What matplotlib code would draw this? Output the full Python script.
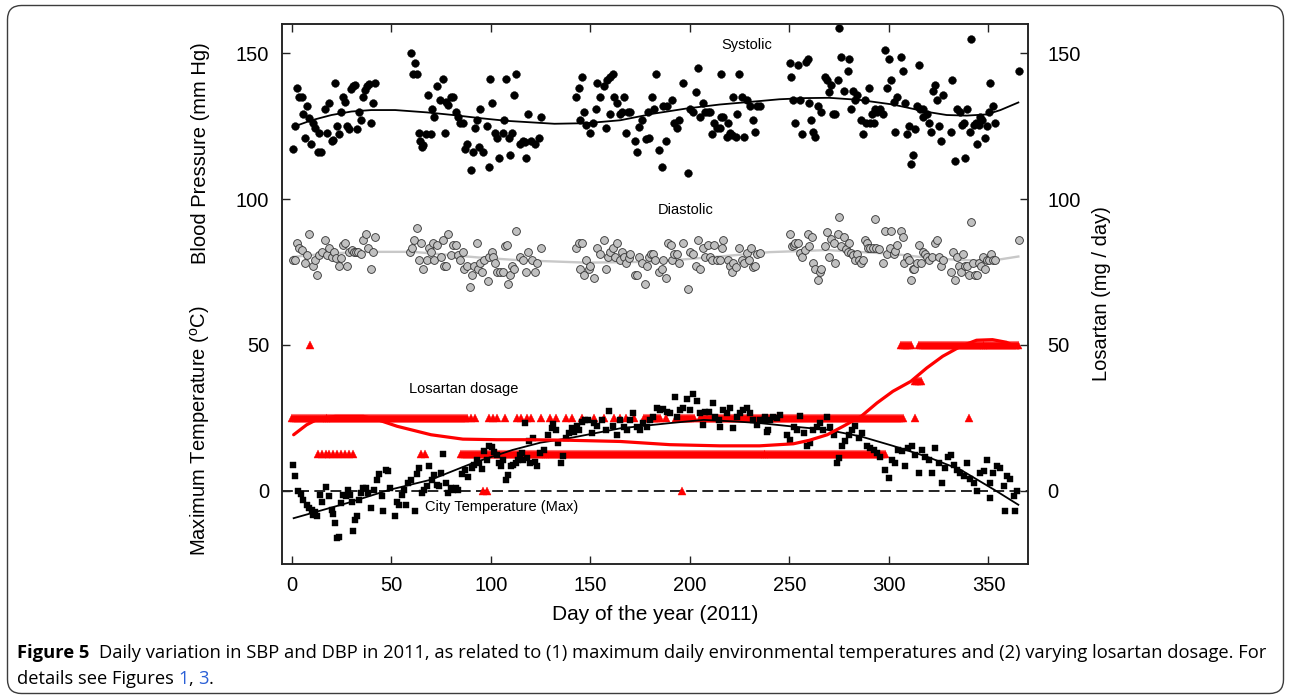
import numpy as np
import matplotlib
matplotlib.use("Agg")
import matplotlib.pyplot as plt
from matplotlib.patches import FancyBboxPatch
from matplotlib.transforms import IdentityTransform
from matplotlib.font_manager import FontProperties

# ---------------- data ----------------
SBP_DAY = [0.8, 1.6, 2.8, 3.7, 5.0, 5.8, 6.7, 7.9, 8.9, 9.7, 10.9, 11.7, 13.0, 13.9, 14.9, 16.7, 17.9, 18.7,
           20.1, 21.0, 21.8, 22.9, 23.9, 24.8, 26.0, 26.8, 27.6, 28.8, 29.6, 30.6, 31.8, 33.0, 33.8, 34.8,
           35.7, 36.8, 38.0, 39.0, 39.7, 40.7, 41.8, 59.8, 60.8, 61.8, 62.8, 63.8, 64.5, 65.3, 65.8, 67.3,
           68.6, 69.8, 70.7, 71.7, 72.9, 74.5, 75.9, 76.9, 77.5, 78.7, 79.9, 80.9, 82.6, 83.7, 84.6, 85.9,
           87.1, 88.0, 89.9, 90.9, 92.1, 92.9, 94.1, 94.8, 95.9, 98.0, 99.0, 99.8, 100.8, 102.0, 103.0,
           104.2, 106.0, 106.9, 107.9, 109.0, 109.7, 110.9, 111.9, 112.9, 114.7, 116.1, 117.4, 117.7, 118.9,
           120.3, 122.3, 124.0, 125.1, 142.9, 144.1, 144.9, 145.9, 146.9, 147.9, 149.9, 151.2, 152.9, 153.6,
           154.9, 156.9, 158.0, 158.6, 160.0, 160.0, 161.3, 161.9, 163.6, 164.9, 165.8, 167.0, 168.0, 168.7,
           170.0, 172.5, 173.7, 174.7, 175.9, 178.1, 178.9, 179.7, 180.9, 182.1, 182.9, 184.7, 185.9, 186.4,
           187.9, 188.4, 190.9, 192.1, 193.4, 194.8, 196.8, 199.0, 200.1, 201.8, 203.0, 204.0, 205.2, 206.5,
           207.7, 208.9, 209.9, 211.1, 211.9, 213.6, 215.0, 215.5, 215.9, 216.9, 218.6, 219.4, 220.3, 221.1,
           221.9, 223.3, 223.9, 224.8, 226.1, 227.3, 228.6, 230.3, 231.9, 232.9, 233.9, 235.3, 250.1, 251.0,
           251.8, 252.9, 254.1, 255.1, 256.2, 258.3, 259.3, 260.1, 260.9, 261.7, 262.9, 264.2, 265.8, 268.1,
           268.8, 269.9, 270.9, 271.8, 272.9, 274.2, 275.0, 276.0, 277.2, 279.2, 280.0, 280.9, 282.2, 283.0,
           284.2, 285.9, 287.2, 288.1, 288.6, 290.0, 290.6, 291.4, 292.3, 293.0, 294.2, 295.6, 296.9, 298.1,
           298.9, 300.1, 300.9, 302.3, 303.0, 303.9, 305.9, 306.9, 307.9, 308.9, 309.9, 310.9, 311.9, 312.9,
           313.9, 315.1, 315.4, 317.0, 317.3, 319.0, 320.1, 321.1, 322.1, 323.2, 324.1, 325.3, 326.1, 327.0,
           331.1, 331.9, 333.2, 334.1, 335.5, 336.5, 337.5, 338.2, 339.2, 340.5, 341.2, 342.6, 343.9, 344.2,
           345.1, 345.8, 346.9, 348.2, 349.2, 350.2, 350.9, 352.2, 353.2, 365.1]
SBP_MMHG = [117.0, 125.0, 137.9, 135.0, 135.0, 129.0, 120.8, 132.0, 127.8, 118.9, 125.9, 124.2, 116.0, 122.8, 116.0,
            130.8, 122.8, 132.8, 120.0, 120.3, 139.8, 125.0, 122.2, 129.9, 135.0, 133.1, 125.0, 124.0, 137.7,
            138.6, 139.1, 124.0, 129.9, 127.0, 135.0, 137.5, 138.6, 139.4, 125.9, 132.9, 139.8, 149.9, 143.0,
            146.8, 143.0, 122.8, 119.8, 117.8, 118.5, 122.2, 135.8, 122.2, 131.0, 128.2, 138.8, 133.8, 141.0,
            122.8, 133.1, 132.2, 135.0, 135.0, 129.9, 128.2, 125.9, 125.9, 117.3, 119.0, 110.0, 116.0, 124.2,
            127.0, 117.8, 130.8, 116.0, 125.0, 111.0, 141.0, 132.8, 122.8, 120.8, 114.0, 122.8, 127.0, 141.0,
            120.8, 115.1, 122.8, 135.8, 143.0, 119.0, 120.0, 119.6, 114.0, 129.0, 120.0, 119.0, 121.0, 128.0,
            135.0, 137.9, 127.0, 141.8, 130.0, 125.4, 122.8, 125.9, 130.8, 139.8, 135.0, 138.8, 124.2, 140.7,
            141.8, 129.0, 143.0, 135.0, 132.8, 129.0, 129.9, 135.0, 122.8, 129.9, 129.9, 120.0, 116.0, 124.7,
            127.0, 120.5, 129.9, 121.0, 135.0, 130.8, 143.0, 116.8, 111.0, 132.0, 120.0, 132.0, 134.0, 125.9,
            124.2, 127.0, 139.8, 109.0, 130.8, 129.9, 136.8, 144.9, 128.2, 132.8, 129.9, 130.0, 129.9, 122.2,
            125.9, 124.2, 124.2, 128.0, 143.0, 128.0, 121.4, 126.0, 122.5, 122.0, 135.0, 121.4, 129.0, 143.0,
            135.0, 121.4, 134.0, 132.0, 127.0, 123.0, 132.0, 132.0, 146.8, 141.9, 133.9, 125.9, 145.9, 133.9,
            122.2, 147.0, 147.9, 132.8, 127.0, 123.1, 121.2, 132.0, 129.9, 141.9, 140.7, 136.8, 139.0, 129.0,
            129.0, 140.9, 158.7, 148.7, 137.0, 143.8, 147.9, 130.8, 137.0, 134.0, 135.8, 127.0, 122.2, 134.0,
            125.9, 138.0, 125.9, 129.0, 125.9, 130.8, 129.9, 130.8, 129.0, 151.0, 138.1, 147.9, 140.9, 133.1,
            123.1, 135.0, 148.7, 143.8, 132.9, 122.2, 125.0, 112.0, 115.1, 124.1, 132.0, 145.8, 130.8, 128.2,
            131.0, 129.0, 125.9, 123.1, 137.0, 139.0, 134.0, 125.0, 120.0, 135.8, 123.1, 140.9, 113.0, 130.8,
            129.9, 125.4, 125.9, 114.0, 130.8, 123.1, 154.8, 125.4, 125.9, 119.0, 125.4, 128.0, 127.0, 121.0,
            125.0, 129.9, 139.8, 132.0, 125.9, 143.8]

DBP_DAY = [0.8, 1.7, 2.5, 3.8, 5.0, 6.7, 7.9, 8.9, 10.5, 11.7, 12.9, 13.9, 15.1, 16.7, 17.9, 18.9, 20.1, 21.3,
           22.3, 23.8, 24.8, 26.0, 26.8, 27.6, 29.0, 30.1, 31.3, 32.3, 33.5, 34.7, 35.7, 37.3, 38.5, 39.7,
           40.7, 41.9, 59.4, 60.6, 61.5, 62.8, 63.8, 64.8, 65.8, 67.8, 69.0, 69.8, 70.8, 71.7, 72.9, 74.9,
           75.9, 76.7, 77.5, 78.7, 79.9, 80.9, 82.6, 83.7, 84.6, 85.9, 86.7, 87.9, 89.6, 90.7, 91.7, 92.9,
           93.7, 94.6, 95.8, 96.6, 98.8, 99.3, 100.5, 101.3, 102.2, 103.3, 104.7, 106.0, 107.2, 108.0, 108.9,
           109.7, 110.9, 111.9, 112.9, 114.7, 116.1, 117.7, 118.9, 120.6, 122.3, 123.4, 125.1, 142.9, 144.1,
           144.9, 145.9, 146.9, 147.9, 149.1, 149.9, 151.9, 153.6, 154.9, 156.9, 157.9, 159.1, 160.0, 161.3,
           162.4, 163.6, 164.9, 165.8, 166.9, 168.0, 169.2, 170.0, 172.5, 173.7, 174.7, 175.9, 177.6, 178.4,
           179.3, 180.4, 181.4, 182.6, 184.7, 185.9, 186.7, 187.9, 189.2, 190.4, 191.2, 192.2, 193.4, 194.8,
           196.8, 199.0, 200.1, 201.8, 203.0, 204.0, 205.2, 206.5, 207.7, 208.9, 209.9, 211.1, 211.9, 213.6,
           214.9, 216.1, 216.6, 219.4, 220.3, 221.1, 221.9, 223.3, 224.8, 226.1, 227.3, 228.6, 229.6, 230.6,
           231.9, 232.9, 233.9, 235.3, 250.1, 251.3, 252.1, 252.9, 254.1, 255.1, 256.2, 257.9, 259.1, 260.1,
           261.3, 262.1, 263.0, 264.2, 265.2, 266.0, 268.1, 268.8, 269.9, 270.9, 272.2, 273.0, 274.2, 275.0,
           276.0, 277.2, 278.5, 279.2, 280.0, 280.9, 282.2, 283.0, 284.2, 285.2, 286.0, 287.2, 288.1, 288.9,
           289.7, 290.6, 291.9, 293.0, 293.5, 295.0, 296.9, 298.1, 299.0, 300.3, 300.9, 302.3, 303.1, 303.9,
           305.9, 306.9, 307.7, 309.0, 310.0, 311.0, 311.9, 312.8, 313.9, 314.9, 315.9, 316.9, 318.1, 318.9,
           319.9, 321.5, 323.2, 324.1, 325.3, 326.1, 327.1, 331.1, 332.1, 333.2, 334.1, 335.1, 336.1, 337.1,
           338.2, 339.2, 340.2, 341.2, 342.2, 343.2, 344.2, 345.2, 346.2, 347.2, 348.2, 349.2, 350.2, 351.2,
           352.2, 353.2, 365.1]
DBP_MMHG = [79.1, 79.1, 85.0, 83.1, 82.5, 78.2, 80.9, 88.0, 77.0, 79.1, 74.0, 80.9, 82.0, 86.0, 80.9, 83.1, 80.3,
            82.0, 79.7, 77.0, 79.7, 84.2, 85.0, 77.0, 82.0, 82.5, 82.0, 82.0, 82.0, 81.0, 86.0, 88.0, 83.1,
            76.0, 82.0, 87.0, 82.0, 83.1, 86.0, 90.0, 79.1, 85.0, 76.0, 79.1, 83.1, 82.0, 85.0, 79.1, 84.2,
            80.3, 86.0, 77.0, 77.0, 88.0, 80.9, 84.2, 84.2, 80.9, 79.1, 82.0, 76.0, 77.0, 70.0, 74.0, 77.0,
            85.0, 76.0, 78.2, 75.0, 79.1, 72.0, 80.3, 82.0, 80.3, 78.0, 75.0, 75.0, 75.0, 83.9, 84.2, 71.0,
            74.0, 77.0, 76.0, 89.0, 80.3, 79.1, 75.0, 82.0, 79.1, 75.0, 78.2, 83.1, 83.1, 85.0, 76.0, 85.0,
            74.0, 79.1, 76.0, 77.0, 73.0, 83.1, 81.0, 86.0, 76.0, 80.3, 82.0, 83.1, 80.3, 85.0, 79.1, 82.0,
            80.3, 78.2, 79.7, 81.0, 74.0, 74.0, 80.3, 78.2, 71.0, 77.0, 80.3, 81.0, 81.0, 79.1, 75.0, 76.0,
            79.1, 73.0, 85.0, 84.2, 79.1, 81.0, 81.0, 78.2, 85.0, 69.0, 82.0, 81.0, 77.0, 86.0, 76.0, 83.1,
            80.3, 84.2, 80.3, 79.1, 84.2, 79.1, 79.1, 83.1, 86.0, 79.1, 77.0, 75.0, 78.2, 76.8, 83.1, 79.1,
            78.2, 81.4, 79.1, 83.1, 76.8, 77.0, 81.0, 81.4, 88.0, 83.9, 84.2, 84.8, 85.0, 81.4, 80.3, 82.5,
            88.0, 83.9, 87.0, 78.2, 76.0, 72.3, 75.0, 76.0, 83.9, 88.8, 80.3, 86.2, 85.0, 78.2, 88.0, 94.0,
            83.9, 87.0, 82.8, 82.0, 85.0, 81.4, 80.9, 79.1, 81.2, 79.1, 78.2, 79.1, 86.0, 85.0, 83.1, 83.1,
            83.1, 93.0, 83.1, 82.8, 78.2, 89.0, 81.2, 83.1, 89.0, 81.2, 82.3, 84.2, 89.0, 87.0, 78.2, 80.3,
            79.1, 72.3, 76.0, 76.0, 78.2, 84.2, 78.2, 82.0, 81.0, 80.3, 79.1, 80.3, 84.8, 86.0, 80.3, 77.0,
            79.1, 75.0, 82.0, 72.3, 80.3, 77.0, 75.0, 81.0, 77.0, 77.0, 74.0, 92.0, 78.2, 74.0, 74.0, 78.2,
            77.0, 80.3, 76.0, 79.1, 79.1, 81.2, 79.1, 79.1, 86.0]

TEMP_DAY = [0.8, 1.7, 3.3, 4.5, 5.8, 7.5, 8.9, 10.0, 10.9, 11.7, 12.9, 14.2, 15.1, 17.5, 18.9, 20.1, 20.9, 21.8,
            22.6, 23.9, 24.8, 26.0, 27.1, 28.1, 29.3, 30.1, 30.9, 31.8, 33.0, 33.8, 34.7, 36.0, 37.3, 38.5,
            39.7, 41.4, 42.7, 44.0, 45.2, 46.0, 47.4, 48.5, 49.4, 51.9, 52.7, 54.1, 55.3, 56.4, 57.4, 58.6,
            59.8, 61.9, 62.8, 64.2, 65.3, 66.5, 67.8, 69.2, 70.3, 71.5, 72.9, 74.2, 75.0, 76.2, 77.4, 78.7,
            79.9, 81.2, 82.6, 83.7, 85.4, 87.1, 88.7, 90.4, 91.6, 92.9, 94.3, 95.5, 96.6, 98.0, 99.3, 100.5,
            101.7, 103.0, 103.9, 105.0, 106.4, 107.7, 108.9, 110.1, 111.4, 112.6, 113.9, 114.7, 115.6, 116.4,
            117.0, 118.1, 119.4, 119.8, 121.4, 122.3, 123.1, 124.5, 126.5, 128.9, 130.6, 131.4, 132.8, 133.9,
            135.1, 136.1, 137.8, 139.5, 140.7, 141.8, 143.2, 144.5, 145.7, 147.4, 149.0, 150.7, 151.9, 153.6,
            155.8, 157.9, 159.6, 161.3, 163.3, 164.9, 166.9, 168.3, 169.9, 171.7, 173.3, 175.0, 176.7, 178.4,
            180.0, 181.7, 183.4, 185.0, 186.7, 188.4, 190.0, 192.6, 193.4, 195.1, 196.8, 198.5, 200.1, 201.8,
            203.5, 205.2, 206.5, 207.7, 209.4, 211.5, 212.7, 214.4, 215.2, 216.9, 218.6, 220.2, 221.9, 223.6,
            225.2, 226.9, 228.6, 230.3, 231.9, 233.6, 235.3, 237.0, 237.8, 238.7, 239.5, 240.3, 242.0, 243.7,
            245.3, 248.7, 250.4, 252.1, 253.7, 255.4, 257.1, 258.8, 260.4, 262.1, 263.8, 265.5, 267.1, 268.8,
            270.5, 272.2, 273.8, 274.7, 276.4, 278.0, 279.7, 281.4, 283.1, 284.8, 286.4, 288.9, 290.6, 292.3,
            293.9, 295.6, 298.1, 299.8, 301.5, 303.1, 304.8, 306.5, 308.2, 309.8, 311.5, 313.2, 314.9, 316.5,
            318.2, 319.9, 321.6, 323.2, 324.9, 326.6, 328.3, 329.9, 331.1, 332.5, 334.1, 335.8, 337.5, 339.2,
            340.8, 342.5, 344.2, 345.8, 347.5, 349.2, 350.9, 350.9, 352.5, 354.2, 355.9, 357.6, 358.4, 359.2,
            360.9, 362.6, 363.4, 364.3]
TEMP_C = [8.7, 5.1, 0.0, -1.0, -3.1, -4.8, -5.9, -6.7, -8.2, -7.4, -8.6, -1.4, -3.7, 1.3, -1.9, -6.7, -7.9, -11.1,
          -16.2, -15.8, -4.2, -1.4, -1.9, 0.3, -1.4, -3.7, -13.9, -9.9, -8.8, -3.1, -0.8, 0.9, 0.9, -0.8,
          -5.9, 0.3, 3.7, 5.8, -1.9, -7.1, 7.0, 6.7, 0.9, -8.8, -3.7, -4.8, -1.4, 0.3, -4.8, 2.6,
          3.7, -7.1, 5.8, 7.8, -0.8, 0.1, 1.7, 8.4, 3.7, 5.5, 2.1, 1.5, 6.1, 12.6, 2.6, -0.8,
          0.9, 0.3, 0.9, 0.3, 5.8, 7.2, 4.7, 7.8, 8.9, 10.6, 9.5, 7.5, 13.5, 10.6, 15.2, 15.0,
          13.2, 12.4, 9.5, 8.4, 10.6, 3.7, 5.5, 8.4, 8.9, 9.5, 10.6, 12.4, 12.9, 10.6,
          23.2, 11.2, 16.9, 9.5, 18.1, 10.0, 8.4, 13.0, 14.0, 19.1, 21.4, 23.0, 20.9, 16.3,
          9.5, 11.8, 18.1, 19.8, 21.4, 20.3, 22.2, 20.9, 23.7, 24.3, 24.3, 19.8, 23.2, 22.2,
          24.3, 20.9, 27.5, 22.2, 19.2, 24.3, 22.0, 20.9, 24.3, 26.6, 22.0, 20.9, 23.2, 22.0,
          24.3, 25.4, 28.3, 27.7, 27.9, 27.1, 26.6, 32.1, 25.4, 27.7, 28.3, 31.6, 27.7, 33.2,
          30.6, 26.6, 22.6, 27.1, 27.1, 30.0, 25.4, 24.3, 21.8, 27.7, 26.6, 28.3, 21.4, 25.4,
          26.6, 27.7, 28.3, 26.6, 24.3, 22.6, 24.3, 24.3, 25.4, 20.3, 20.9, 24.3, 25.4, 24.8,
          26.0, 19.2, 17.5, 22.0, 20.9, 25.6, 19.8, 15.2, 16.3, 20.9, 22.0, 23.2, 20.9, 25.4,
          22.0, 19.2, 9.5, 11.2, 15.2, 16.9, 19.2, 20.9, 22.2, 18.1, 19.8, 15.2, 14.6, 14.0,
          12.9, 11.7, 7.2, 4.3, 10.6, 9.5, 14.0, 13.5, 8.4, 14.6, 15.2, 12.3, 6.1, 14.0,
          11.7, 10.6, 6.1, 14.6, 9.5, 2.6, 7.8, 11.7, 12.3, 8.9, 7.2, 6.1, 5.0, 9.5,
          3.9, 2.6, -0.2, 6.1, 6.7, 10.6, 2.6, -2.5, 6.1, 8.4, 7.8, 1.5, -7.1, 5.0,
          3.9, -1.9, -7.1, -0.2]

# Losartan dosage (mg/day): runs of days (first, last, spacing) at each dose
LOS_DOSES = [25.0, 12.5, 50.0, 37.5, 0.0]
LOS_RUNS = {
    25.0: [(0, 88, 1), (90, 92, 2), (99, 103, 2), (107, 107, 1), (113, 115, 2), (118, 120, 2), (125, 125, 1),
           (130, 133, 3), (138, 141, 3), (146, 146, 1), (152, 152, 1), (157, 157, 1), (162, 168, 3),
           (172, 172, 1), (177, 185, 1), (188, 188, 1), (193, 193, 1), (195, 202, 1), (205, 307, 1),
           (313, 313, 1), (340, 340, 1)],
    12.5: [(13, 31, 2), (65, 67, 2), (85, 298, 1)],
    50.0: [(9, 9, 1), (306, 311, 1), (315, 365, 1)],
    37.5: [(313, 316, 1)],
    0.0: [(96, 98, 2), (196, 196, 1)],
}

# smooth trends
SBP_TREND_DAY = [1, 10, 20, 30, 40, 52, 68, 81, 95, 108, 120, 132, 148, 165, 182, 198, 215, 232, 245, 258,
                 270, 285, 302, 319, 329, 339, 349, 356, 365]
SBP_TREND = [124.8, 127.0, 128.8, 130.0, 130.5, 130.5, 129.7, 128.8, 127.7, 126.8, 126.3, 125.8, 126.0, 127.0,
             129.3, 131.0, 132.4, 133.4, 134.2, 134.6, 134.7, 134.0, 132.4, 129.9, 128.8, 128.6, 129.0, 130.5, 133.1]
DBP_TREND_DAY = [1, 19, 41, 61, 78, 95, 115, 148, 182, 215, 240, 269, 302, 319, 336, 352, 365]
DBP_TREND = [80.2, 81.4, 81.9, 81.9, 80.9, 79.9, 79.0, 78.2, 78.5, 80.3, 81.8, 82.5, 81.2, 79.9, 79.1, 78.9, 80.3]
TEMP_TREND_DAY = [1, 28, 49, 70, 91, 111, 125, 140, 165, 190, 207, 224, 235, 252, 269, 286, 302, 319, 336,
                  353, 365]
TEMP_TREND = [-9.4, -4.2, 0.3, 3.8, 9.5, 14.0, 16.5, 18.1, 21.4, 23.2, 24.3, 23.7, 23.2, 22.0, 20.9, 18.6,
              15.4, 11.7, 7.2, 0.3, -4.8]
LOS_TREND_DAY = [1, 7.5, 14, 22, 36, 43, 53, 70, 86, 103, 120, 140, 165, 190, 215, 235, 252, 260, 269, 277,
                 286, 294, 302, 311, 319, 327, 336, 344, 352, 359, 365]
LOS_TREND = [19.2, 22.6, 24.9, 25.5, 25.5, 24.4, 22.1, 19.2, 17.7, 17.5, 17.5, 17.3, 16.9, 15.8, 15.4, 15.4,
             16.1, 17.3, 19.2, 22.1, 25.5, 30.1, 34.1, 37.5, 42.1, 46.1, 49.5, 51.6, 51.8, 50.9, 49.0]

X_TICKS = [0, 50, 100, 150, 200, 250, 300, 350]
Y_TICKS = [0, 50, 100, 150]

CAPTION_BOLD = "Figure 5"
CAPTION_LINE1 = ("Daily variation in SBP and DBP in 2011, as related to (1) maximum daily environmental "
                 "temperatures and (2) varying losartan dosage. For")
CAPTION_LINE2 = [("details see Figures ", "k"), ("1", "link"), (", ", "k"), ("3", "link"), (".", "k")]

# ---------------- figure ----------------
W, H = 1290, 698
plt.rcParams["font.family"] = ["Liberation Sans", "DejaVu Sans"]
plt.rcParams["mathtext.fontset"] = "custom"
plt.rcParams["mathtext.rm"] = "Liberation Sans"
fig = plt.figure(figsize=(W / 100, H / 100), dpi=100)
fig.patch.set_facecolor("white")

L, R, T, B = 281.7, 1028.3, 24.0, 563.7
ax = fig.add_axes([L / W, 1 - B / H, (R - L) / W, (B - T) / H])
ax.set_xlim(-5, 370)
ax.set_ylim(-25, 160)

# losartan triangles
los_x, los_y = [], []
for dose in LOS_DOSES:
    for a, b, s in LOS_RUNS[dose]:
        d = np.arange(a, b + 1, s)
        los_x.extend(d)
        los_y.extend([dose] * len(d))
ax.plot(los_x, los_y, linestyle="none", marker="^", ms=6.3, mfc="#ff0000", mec="#ff0000", mew=0.3, zorder=2)

# zero line
ax.axhline(0, color="black", lw=1.2, dashes=(6.5, 3.2), zorder=1.5)

# temperature squares
ax.plot(TEMP_DAY, TEMP_C, linestyle="none", marker="s", ms=5.0, mfc="black", mec="black", mew=0.3, zorder=3)

# blood pressure
ax.plot(DBP_TREND_DAY, DBP_TREND, color="#c8c8c8", lw=1.7, zorder=2.5)
ax.plot(DBP_DAY, DBP_MMHG, linestyle="none", marker="o", ms=5.6, mfc="#c0c0c0", mec="#303030", mew=0.6, zorder=3)
ax.plot(SBP_DAY, SBP_MMHG, linestyle="none", marker="o", ms=5.6, mfc="black", mec="black", mew=0.3, zorder=3)
ax.plot(SBP_TREND_DAY, SBP_TREND, color="black", lw=1.3, zorder=4)

# trends
ax.plot(TEMP_TREND_DAY, TEMP_TREND, color="black", lw=1.3, zorder=4)
ax.plot(LOS_TREND_DAY, LOS_TREND, color="#ff0000", lw=2.3, zorder=4.5, solid_capstyle="round")

# annotations
ax.text(228.8, 152.7, "Systolic", fontsize=10.5, ha="center", va="center")
ax.text(197.7, 96.3, "Diastolic", fontsize=10.5, ha="center", va="center")
ax.text(86.6, 34.9, "Losartan dosage", fontsize=10.5, ha="center", va="center")
ax.text(105.7, -5.7, "City Temperature (Max)", fontsize=10.5, ha="center", va="center")

# axes styling
for sp in ax.spines.values():
    sp.set_linewidth(1.1)
    sp.set_color("#222222")
ax.set_xticks(X_TICKS)
ax.set_yticks(Y_TICKS)
ax.tick_params(axis="both", direction="in", length=6, width=1.0, labelsize=14.5, colors="#222222",
               labelcolor="black")
ax.tick_params(axis="x", pad=9, top=True)
ax.tick_params(axis="y", pad=9)
ax.set_xlabel("Day of the year (2011)", fontsize=15, labelpad=7)

ax2 = ax.twinx()
ax2.set_ylim(ax.get_ylim())
ax2.set_yticks(Y_TICKS)
ax2.tick_params(axis="y", direction="in", length=6, width=1.0, labelsize=14.5, pad=14, colors="#222222",
                labelcolor="black")
for sp in ax2.spines.values():
    sp.set_linewidth(1.1)
    sp.set_color("#222222")
ax2.set_ylabel("Losartan (mg / day)", fontsize=14.5, labelpad=8)

fig.text(200.5 / W, 1 - 153.6 / H, "Blood Pressure (mm Hg)", rotation=90, fontsize=14.5, ha="center", va="center")
fig.text(200.5 / W, 1 - 430.8 / H, r"Maximum Temperature ($\mathregular{^{o}}$C)", rotation=90, fontsize=14.5,
         ha="center", va="center")

# caption
renderer = fig.canvas.get_renderer()
cap_family = ["Open Sans", "Noto Sans", "DejaVu Sans"]


def tw(txt, fp):
    a = renderer.get_text_width_height_descent("|" + txt + "|", fp, ismath=False)[0]
    b = renderer.get_text_width_height_descent("||", fp, ismath=False)[0]
    return a - b


size = 12.0
fpb = FontProperties(family=cap_family, weight="bold", size=size)
fpr = FontProperties(family=cap_family, size=size)
full = tw(CAPTION_BOLD, fpb) + tw("  " + CAPTION_LINE1, fpr)
size = size * (1263.0 - 17.0) / full
fpb = FontProperties(family=cap_family, weight="bold", size=size)
fpr = FontProperties(family=cap_family, size=size)

x0 = 17.0
y1, y2 = 653.0, 679.0
fig.text(x0 / W, 1 - y1 / H, CAPTION_BOLD, fontproperties=fpb, ha="left", va="center")
fig.text((x0 + tw(CAPTION_BOLD + "  ", fpb)) / W, 1 - y1 / H, CAPTION_LINE1, fontproperties=fpr, ha="left",
         va="center")
x = x0
for txt, col in CAPTION_LINE2:
    c = "#2a5fd6" if col == "link" else "black"
    fig.text(x / W, 1 - y2 / H, txt, fontproperties=fpr, color=c, ha="left", va="center")
    x += tw(txt, fpr)

# rounded frame
frame = FancyBboxPatch((7.5, H - 693.5), 1276, 688, boxstyle="round,pad=0,rounding_size=14",
                       transform=IdentityTransform(), fill=False, ec="#3c3c3c", lw=1.0)
fig.patches.append(frame)

fig.savefig("out.png", dpi=100)
